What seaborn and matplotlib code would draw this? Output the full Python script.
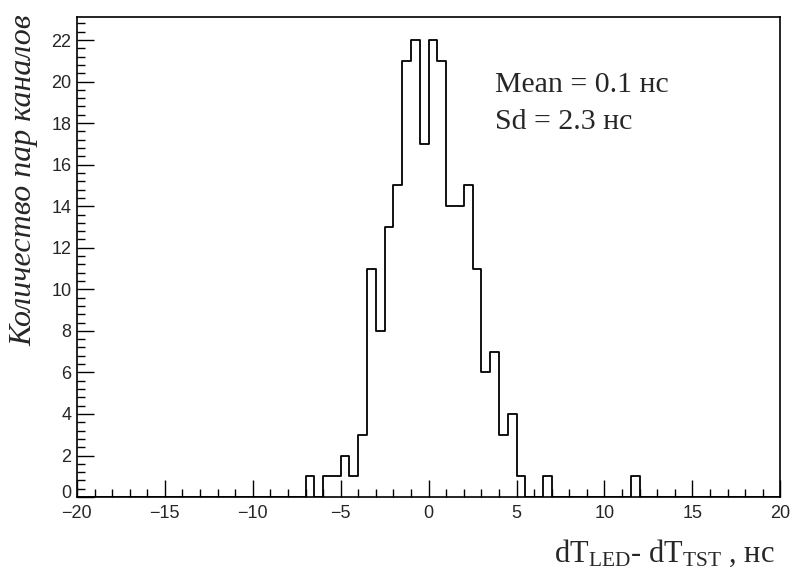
import numpy as np
import pandas as pd
import matplotlib
matplotlib.use("Agg")
import matplotlib.pyplot as plt
import seaborn as sns
from matplotlib.ticker import MultipleLocator, FuncFormatter

# Histogram bins (lower edges, ns) and counts
bin_left = [-7.0, -6.0, -5.5, -5.0, -4.5, -4.0, -3.5, -3.0, -2.5, -2.0, -1.5, -1.0, -0.5,
            0.0, 0.5, 1.0, 1.5, 2.0, 2.5, 3.0, 3.5, 4.0, 4.5, 5.0, 6.5, 11.5]
counts = [1, 1, 1, 2, 1, 3, 11, 8, 13, 15, 21, 22, 17,
          22, 21, 14, 14, 15, 11, 6, 7, 3, 4, 1, 1, 1]
bin_width = 0.5
x_range = (-20, 20)
stats_lines = ["Mean = 0.1 ", "Sd = 2.3 "]

sns.set_theme(style="white")
plt.rcParams["mathtext.fontset"] = "custom"
plt.rcParams["mathtext.rm"] = "Liberation Serif"
plt.rcParams["mathtext.it"] = "Liberation Serif:italic"

df = pd.DataFrame({"x": np.array(bin_left) + bin_width / 2, "w": counts})

fig = plt.figure(figsize=(7.93, 5.72), dpi=100)
ax = fig.add_axes([0.097, 0.131, 0.887, 0.839])
sns.histplot(data=df, x="x", weights="w", binwidth=bin_width, binrange=x_range,
             element="step", fill=False, color="black", linewidth=1.3, ax=ax)

ax.set_xlim(*x_range)
ax.set_ylim(0, 22 * 1.05)
ax.xaxis.set_major_locator(MultipleLocator(5))
ax.xaxis.set_minor_locator(MultipleLocator(1))
ax.yaxis.set_major_locator(MultipleLocator(2))
ax.yaxis.set_minor_locator(MultipleLocator(0.4))
ax.xaxis.set_major_formatter(FuncFormatter(lambda v, p: f"{v:g}".replace("-", "\u2212")))
ax.yaxis.set_major_formatter(FuncFormatter(lambda v, p: "" if abs(v) < 1e-9 else f"{v:g}"))
ax.tick_params(axis="both", which="major", direction="in", length=12, width=1, color="black",
               labelsize=13, bottom=True, left=True, top=False, right=False)
ax.tick_params(axis="x", which="major", pad=6)
ax.tick_params(axis="y", which="major", pad=4)
ax.tick_params(axis="both", which="minor", direction="in", length=6, width=1, color="black",
               bottom=True, left=True, top=False, right=False)
for lab in ax.get_xticklabels() + ax.get_yticklabels():
    lab.set_fontfamily("Liberation Sans")
# y "0" label, lifted slightly so it clears the x "-20" label
ax.annotate("0", xy=(0, 0), xycoords="axes fraction", xytext=(-4, 2.5), textcoords="offset points",
            ha="right", va="center", fontsize=13, family="Liberation Sans", color="#262626")
for s in ax.spines.values():
    s.set_color("black")
    s.set_linewidth(1.2)

ax.set_xlabel("")
ax.set_ylabel("")
fig.text(0.977, 0.005, r"$\mathrm{dT_{LED}}$- $\mathrm{dT_{TST}}$ , нс", ha="right", va="bottom",
         fontsize=22, family="Liberation Serif")
fig.text(0.012, 0.975, "Количество пар каналов", rotation=90, ha="left", va="top",
         fontsize=23, family="Liberation Serif", style="italic")

ax.text(0.595, 0.858, stats_lines[0] + "нс", transform=ax.transAxes, fontsize=21.5,
        family="Liberation Serif", va="center", ha="left")
ax.text(0.595, 0.781, stats_lines[1] + "нс", transform=ax.transAxes, fontsize=21.5,
        family="Liberation Serif", va="center", ha="left")

fig.savefig("out.png", dpi=100, facecolor="white")
